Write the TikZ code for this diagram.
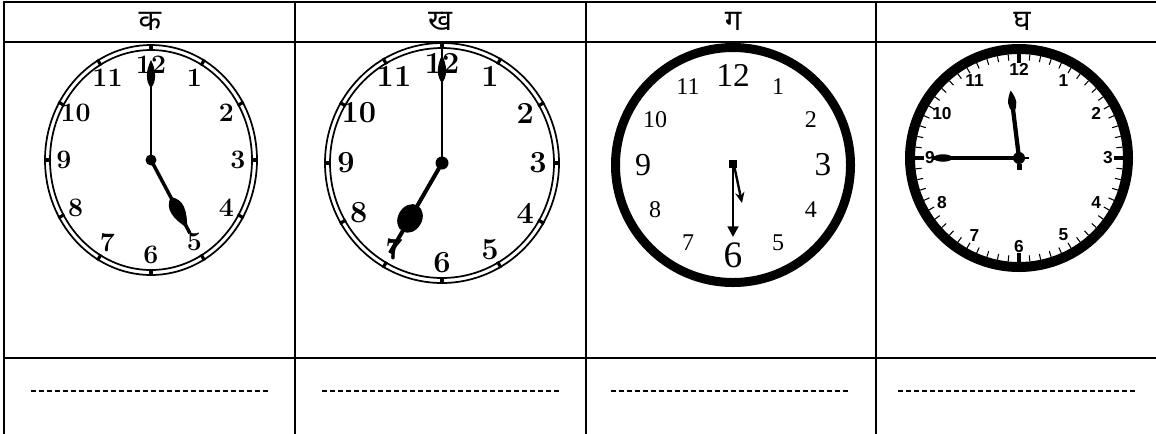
\documentclass[tikz,border=0pt]{standalone}
\usepackage{fontspec}
\newfontfamily\devfont[Script=Devanagari]{Noto Sans}
\newfontfamily\serifnum{Liberation Serif}
\newfontfamily\sansnum{Liberation Sans}
\usetikzlibrary{arrows.meta}

\tikzset{
  tableline/.style = {line width=1.9pt, line cap=rect},
  answerline/.style = {line width=2.2pt, dash pattern=on 3.6pt off 2.4pt},
  head/.style = {font=\devfont\fontsize{22}{22}\selectfont, inner sep=0pt},
  thinring/.style = {line width=1.3pt},
  ringmark/.style = {line width=2.4pt},
  oldnum/.style = {font=\fontsize{20}{20}\selectfont\bfseries, inner sep=0pt},
  bignum/.style = {font=\fontsize{23}{23}\selectfont\bfseries, inner sep=0pt},
  sansdigit/.style = {font=\sansnum\bfseries\fontsize{13}{13}\selectfont, inner sep=0pt},
  minortick/.style = {line width=0.8pt},
  majortick/.style = {line width=2.4pt}
}

\begin{document}
\begin{tikzpicture}[x=0.75pt, y=0.75pt]
    \useasboundingbox (0,0) rectangle (1156,-433);
    % table
    \draw[tableline] (4,-2) -- (1160,-2);
    \draw[tableline] (4,-42) -- (1160,-42);
    \draw[tableline] (4,-358) -- (1160,-358);
    \foreach \x in {4,295,586,876}
        \draw[tableline] (\x,-2) -- (\x,-440);
    % header letters
    \node[head] (colka) at (150,-21) {क};
    \node[head] (colkha) at (440,-21) {ख};
    \node[head] (colga) at (733,-21) {ग};
    \node[head] (colgha) at (1022,-21) {घ};
    % lines to write on
    \draw[answerline] (31,-391) -- (268,-391);
    \draw[answerline] (322,-391) -- (560,-391);
    \draw[answerline] (611,-391) -- (850,-391);
    \draw[answerline] (898,-391) -- (1137,-391);

    % clock ka: five o'clock
    \begin{scope}[shift={(151,-160)}]
        \draw[thinring] (0,0) ellipse [x radius=106, y radius=115];
        \draw[thinring] (0,0) ellipse [x radius=101, y radius=110];
        \foreach \a in {0,30,...,330}
            \draw[ringmark] (\a:100 and 109) -- (\a:107 and 116);
        \foreach \h in {1,...,12}
            \node[oldnum] (kahour\h) at ({90-30*\h}:87 and 95) {\h};
        \draw[line width=1.8pt] (0,0) -- (0,97);
        \fill (0,72) .. controls (6,79) and (5,90) .. (0,100) .. controls (-5,90) and (-6,79) .. (0,72);
        \draw[line width=2.6pt] (0,0) -- (-62:83);
        \fill[rotate=-62] (42,0) .. controls (50,11) and (62,8) .. (77,0) .. controls (62,-8) and (50,-11) .. (42,0);
        \fill (0,0) circle (5.5);
    \end{scope}

    % clock kha: seven o'clock
    \begin{scope}[shift={(442,-163)}]
        \draw[thinring] (0,0) ellipse [x radius=117, y radius=120];
        \draw[thinring] (0,0) ellipse [x radius=112, y radius=115];
        \foreach \a in {0,30,...,330}
            \draw[ringmark] (\a:111 and 114) -- (\a:118 and 121);
        \foreach \h in {1,...,12}
            \node[bignum] (khahour\h) at ({90-30*\h}:96 and 100) {\h};
        \draw[line width=2.2pt] (0,0) -- (0,117);
        \fill (0,80) .. controls (6,87) and (5,98) .. (0,108) .. controls (-5,98) and (-6,87) .. (0,80);
        \draw[line width=3pt] (0,0) -- (240:104);
        \fill[rotate=240] (64,0) ellipse [x radius=15, y radius=12];
        \fill (0,0) circle (6.5);
    \end{scope}

    % clock ga: half past six
    \begin{scope}[shift={(733,-165)}]
        \draw[line width=6.75pt] (0,0) circle (117.5);
        \foreach \h/\fs in {1/18,2/18,3/25,4/18,5/18,6/28,7/18,8/18,9/24,10/18,11/18,12/25}
            \node[font=\serifnum\fontsize{\fs}{\fs}\selectfont, inner sep=0pt] (gahour\h) at ({90-30*\h}:90) {\h};
        \draw[line width=1.8pt, -{Stealth[width=7pt,length=8pt]}] (1,0) -- (9,-38);
        \draw[line width=2.2pt, -{Triangle[width=8pt,length=8pt]}] (0,0) -- (0,-72);
        \fill (-4,-3) rectangle (4,5);
    \end{scope}

    % clock gha: quarter to twelve
    \begin{scope}[shift={(1019,-158)}]
        \draw[line width=7.5pt] (0,0) circle (109);
        \foreach \m in {0,6,...,354}
            \draw[minortick] (\m:104) -- (\m:98);
        \foreach \m in {0,90,180,270}
            \draw[majortick] (\m:104) -- (\m:95);
        \foreach \h in {1,...,12}
            \node[sansdigit] (ghahour\h) at ({90-30*\h}:89) {\h};
        \draw[line width=2.6pt] (0,0) -- (180:86);
        \fill (-88,0) .. controls (-80,5) and (-72,5) .. (-64,0) .. controls (-72,-5) and (-80,-5) .. (-88,0);
        \draw[line width=3.2pt] (0,0) -- (97:52);
        \fill[rotate=97] (46,0) .. controls (52,6) and (59,5) .. (68,0) .. controls (59,-5) and (52,-6) .. (46,0);
        \fill (0,0) circle (6);
        \fill (-2.5,-6) rectangle (3,-12);
        \draw[line width=1.8pt] (0,0) -- (10,0);
    \end{scope}
\end{tikzpicture}
\end{document}
